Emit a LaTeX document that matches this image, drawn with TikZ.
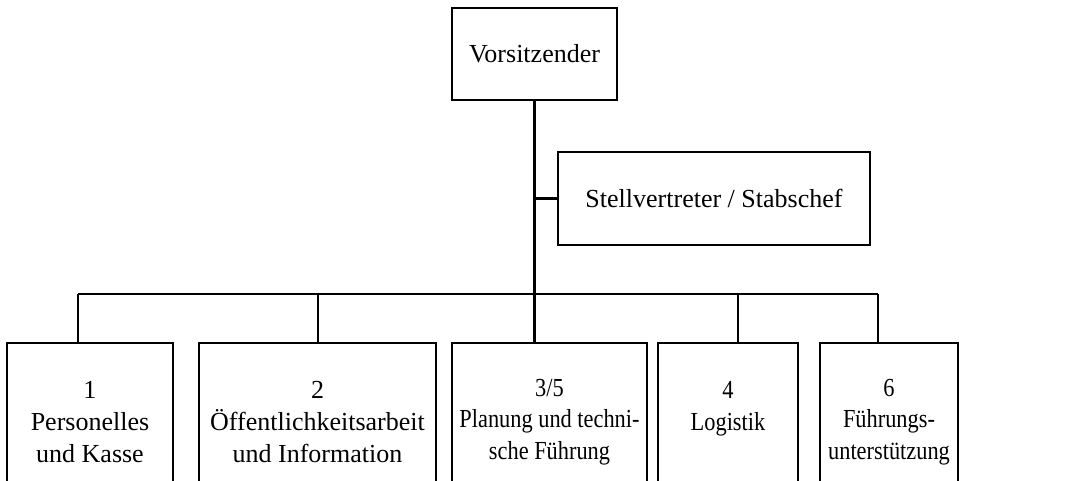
\documentclass[tikz,border=0pt]{standalone}
\usepackage{fontspec}
\setmainfont{Liberation Serif}
\newfontfamily\narrowserif[FakeStretch=0.86]{Liberation Serif}
\begin{document}
\begin{tikzpicture}[x=0.5pt,y=-0.5pt,line width=1.3pt]
        \tikzset{box/.style={draw,align=center,inner sep=0pt,font=\fontsize{13}{15.8}\selectfont},
            narrowbox/.style={box,font=\narrowserif\fontsize{13}{15.8}\selectfont}}
        \useasboundingbox (0,0) rectangle (1067,481);
        \clip (0,0) rectangle (1067,481);
        \node[box,minimum width=82.5pt,minimum height=46pt] (vors) at (534.5,54) {Vorsitzender};
        \node[box,minimum width=156pt,minimum height=46.5pt] (stell) at (714,198.5) {Stellvertreter / Stabschef};
        \node[box,minimum width=83pt,minimum height=79pt] (b1) at (90,422) {1\\Personelles\\und Kasse};
        \node[box,minimum width=118.5pt,minimum height=79pt] (b2) at (317.5,422) {2\\Öffentlichkeitsarbeit\\und Information};
        \node[narrowbox,minimum width=97.5pt,minimum height=79pt] (b3) at (549.5,422) {3/5\\Planung und techni-\\sche Führung};
        \node[narrowbox,minimum width=70pt,minimum height=79pt] (b4) at (728,422) {4\\Logistik\\\mbox{}};
        \node[narrowbox,minimum width=69pt,minimum height=79pt] (b5) at (889,422) {6\\Führungs-\\unterstützung};
        \coordinate (d1) at (78,294);
        \coordinate (d2) at (318,294);
        \coordinate (d4) at (738,294);
        \coordinate (d5) at (878,294);
        \draw (vors.south) -- (vors.south |- b3.north);
        \draw (vors.south |- stell.west) -- (stell.west);
        \draw (d1) -- (d5);
        \draw (d1) -- (d1 |- b1.north);
        \draw (d2) -- (d2 |- b2.north);
        \draw (d4) -- (d4 |- b4.north);
        \draw (d5) -- (d5 |- b5.north);
    \end{tikzpicture}
\end{document}
